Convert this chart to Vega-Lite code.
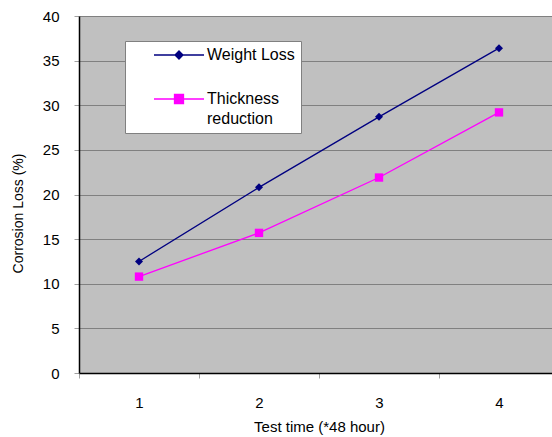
{
  "$schema": "https://vega.github.io/schema/vega-lite/v6.json",
  "width": 473,
  "height": 357,
  "autosize": {"type": "none"},
  "padding": {"left": 79, "top": 16, "right": 0, "bottom": 64},
  "background": "white",
  "config": {
    "view": {"fill": "#C0C0C0", "stroke": null},
    "font": "Liberation Sans"
  },
  "data": {
    "values": [
      {"t": 1, "series": "Weight Loss", "v": 12.5},
      {"t": 2, "series": "Weight Loss", "v": 20.8},
      {"t": 3, "series": "Weight Loss", "v": 28.7},
      {"t": 4, "series": "Weight Loss", "v": 36.4},
      {"t": 1, "series": "Thickness reduction", "v": 10.8},
      {"t": 2, "series": "Thickness reduction", "v": 15.7},
      {"t": 3, "series": "Thickness reduction", "v": 21.9},
      {"t": 4, "series": "Thickness reduction", "v": 29.2}
    ]
  },
  "encoding": {
    "x": {
      "field": "t",
      "type": "ordinal",
      "scale": {"type": "band", "range": [0, 480], "paddingInner": 0, "paddingOuter": 0},
      "axis": {
        "title": "Test time (*48 hour)",
        "titleX": 240,
        "titleY": 53,
        "titleBaseline": "middle",
        "titleFontSize": 15,
        "titleFontWeight": "normal",
        "titleColor": "black",
        "labelAngle": 0,
        "labelFontSize": 15,
        "labelColor": "black",
        "labelPadding": 17,
        "tickBand": "extent",
        "tickColor": "#a0a0a0",
        "tickSize": 5,
        "domainColor": "black",
        "domainWidth": 1.5,
        "grid": false
      }
    },
    "y": {
      "field": "v",
      "type": "quantitative",
      "scale": {"domain": [0, 40], "nice": false},
      "axis": {
        "values": [0, 5, 10, 15, 20, 25, 30, 35, 40],
        "title": "Corrosion Loss  (%)",
        "titleX": -61,
        "titleY": 197,
        "titleAlign": "center",
        "titleBaseline": "middle",
        "titleAngle": -90,
        "titleFontSize": 14,
        "titleFontWeight": "normal",
        "titleColor": "black",
        "labelFontSize": 15,
        "labelColor": "black",
        "labelPadding": 15,
        "tickColor": "#a0a0a0",
        "tickSize": 5,
        "grid": true,
        "gridColor": "#808080",
        "gridWidth": 1,
        "domainColor": "black",
        "domainWidth": 1.5
      }
    },
    "color": {
      "field": "series",
      "type": "nominal",
      "scale": {"domain": ["Weight Loss", "Thickness reduction"], "range": ["#000080", "#FF00FF"]},
      "legend": {
        "orient": "none",
        "legendX": 46,
        "legendY": 25,
        "title": null,
        "fillColor": "white",
        "strokeColor": "#808080",
        "padding": 6,
        "rowPadding": 28,
        "symbolOffset": 40,
        "labelFontSize": 16,
        "labelColor": "black",
        "labelOffset": 20,
        "labelBaseline": "top",
        "labelLimit": 300,
        "labelExpr": "datum.label == 'Thickness reduction' ? ['Thickness', 'reduction'] : datum.label",
        "encode": {
          "symbols": {
            "update": {
              "shape": {"signal": "datum.value == 'Weight Loss' ? 'M-5,0L5,0M0,-0.8L0.8,0L0,0.8L-0.8,0Z' : 'M-5,0L5,0M-0.9,-0.9L0.9,-0.9L0.9,0.9L-0.9,0.9Z'"},
              "size": {"value": 100},
              "strokeWidth": {"value": 1.3}
            }
          },
          "labels": {
            "update": {
              "dy": {"value": -8},
              "lineHeight": {"value": 20}
            }
          }
        }
      }
    }
  },
  "layer": [
    {"mark": {"type": "line", "strokeWidth": 1.3}},
    {
      "transform": [{"filter": "datum.series == 'Weight Loss'"}],
      "mark": {"type": "point", "filled": true, "opacity": 1, "size": 64, "shape": "diamond"}
    },
    {
      "transform": [{"filter": "datum.series == 'Thickness reduction'"}],
      "mark": {"type": "point", "filled": true, "opacity": 1, "size": 70, "shape": "square"}
    }
  ]
}
